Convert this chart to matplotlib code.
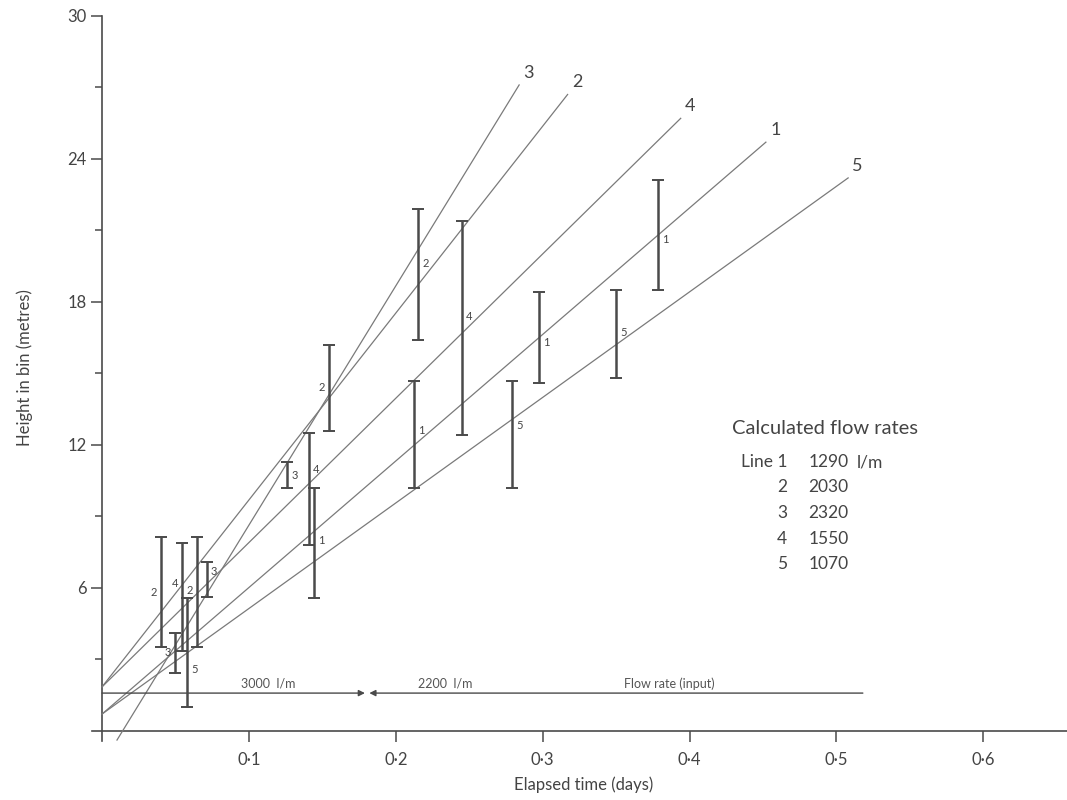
import numpy as np
import matplotlib
matplotlib.use("Agg")
import matplotlib.pyplot as plt

plt.rcParams['font.family'] = ['Lato', 'DejaVu Sans']

# fitted lines: start and end points
line_ids = ["1", "2", "3", "4", "5"]
line_x0 = [0.0, 0.0, 0.0102, 0.0, 0.0]
line_y0 = [0.71, 1.85, -0.38, 1.85, 0.71]
line_x1 = [0.452, 0.317, 0.284, 0.394, 0.508]
line_y1 = [24.7, 26.7, 27.1, 25.7, 23.2]

# measured ranges (error bars)
bar_x = [0.040, 0.0545, 0.050, 0.058, 0.065, 0.0713, 0.126, 0.141, 0.1444,
         0.1546, 0.2125, 0.2153, 0.245, 0.279, 0.2977, 0.350, 0.3787]
bar_lo = [3.52, 3.36, 2.43, 1.0, 3.52, 5.62, 10.2, 7.8, 5.58,
          12.6, 10.2, 16.4, 12.4, 10.2, 14.6, 14.8, 18.5]
bar_hi = [8.14, 7.89, 4.1, 5.58, 8.14, 7.09, 11.3, 12.5, 10.2,
          16.2, 14.7, 21.9, 21.4, 14.7, 18.4, 18.5, 23.1]
bar_line = ["2", "4", "3", "5", "2", "3", "3", "4", "1",
            "2", "1", "2", "4", "5", "1", "5", "1"]
bar_label_y = [5.8, 6.2, 3.3, 2.6, 5.9, 6.7, 10.7, 10.95, 8.0,
               14.4, 12.6, 19.6, 17.4, 12.8, 16.3, 16.7, 20.6]
bar_side = ["l", "l", "l", "r", "l", "r", "r", "r", "r",
            "l", "r", "r", "r", "r", "r", "r", "r"]

# calculated flow rates table
rate_lines = ["1", "2", "3", "4", "5"]
rate_values = ["1290", "2030", "2320", "1550", "1070"]

# input flow rate
flow_change_x = 0.18
flow_end_x = 0.518
flow_y = 1.59

ink = "#4a4a4a"
thin = "#7a7a7a"
txt = "#444444"

fig = plt.figure(figsize=(10.67, 8), dpi=100)
ax = fig.add_axes([0.0956, 0.08625, 1 - 0.0956, 0.894])
ax.set_xlim(0, 0.657)
ax.set_ylim(0, 30)
for s in ax.spines.values():
    s.set_visible(False)

# axes lines drawn by hand so they can run past the origin
ax.plot([0, 0], [-0.4, 30], color=ink, lw=1.2, clip_on=False)
ax.plot([-0.007, 0.657], [0, 0], color=ink, lw=1.2, clip_on=False)

ax.set_yticks([6, 12, 18, 24, 30])
ax.set_yticks([3, 9, 15, 21, 27], minor=True)
ax.set_xticks([0.1, 0.2, 0.3, 0.4, 0.5, 0.6])
ax.set_xticklabels(["0·1", "0·2", "0·3", "0·4", "0·5", "0·6"])
ax.tick_params(axis="y", which="major", direction="out", length=8, width=1.1,
               color=ink, labelsize=12, labelcolor=txt, pad=3)
ax.tick_params(axis="y", which="minor", direction="out", length=5, width=1.1, color=ink)
ax.tick_params(axis="x", direction="out", length=8, width=1.1, color=ink,
               labelsize=12, labelcolor=txt, pad=7)

fig.text(584 / 1067, 1 - 785 / 800, "Elapsed time (days)", fontsize=12,
         color=txt, ha="center", va="center")
fig.text(25 / 1067, 1 - 368 / 800, "Height in bin (metres)", fontsize=12,
         color=txt, ha="center", va="center", rotation=90)

# fitted lines with end labels
for lid, x0, y0, x1, y1 in zip(line_ids, line_x0, line_y0, line_x1, line_y1):
    ax.plot([x0, x1], [y0, y1], color=thin, lw=0.9, clip_on=False)
    ax.annotate(lid, (x1, y1), xytext=(3, 3), textcoords="offset points",
                fontsize=13, color=txt, ha="left", va="bottom")

# error bars
ax.errorbar(bar_x, [(a + b) / 2 for a, b in zip(bar_lo, bar_hi)],
            yerr=[[(b - a) / 2 for a, b in zip(bar_lo, bar_hi)]] * 2,
            fmt="none", ecolor=ink, elinewidth=1.8, capsize=4, capthick=1.4)
for x, ly, lab, side in zip(bar_x, bar_label_y, bar_line, bar_side):
    dx = -3 if side == "l" else 3
    ax.annotate(lab, (x, ly), xytext=(dx, 0), textcoords="offset points",
                fontsize=8, color=txt, va="center",
                ha="right" if side == "l" else "left")

# input flow rate arrows
ax.annotate("", xy=(flow_change_x - 0.001, flow_y), xytext=(0, flow_y),
            arrowprops=dict(arrowstyle="-|>", color=ink, lw=1.0,
                            mutation_scale=9, shrinkA=0, shrinkB=0))
ax.annotate("", xy=(flow_change_x + 0.002, flow_y), xytext=(flow_end_x, flow_y),
            arrowprops=dict(arrowstyle="-|>", color=ink, lw=1.0,
                            mutation_scale=9, shrinkA=0, shrinkB=0))
ax.text(0.113, 2.0, "3000  l/m", fontsize=9, color="#555555", ha="center", va="center")
ax.text(0.234, 2.0, "2200  l/m", fontsize=9, color="#555555", ha="center", va="center")
ax.text(0.386, 2.0, "Flow rate (input)", fontsize=9, color="#555555", ha="center", va="center")

# calculated flow rates table
ax.text(0.492, 12.7, "Calculated flow rates", fontsize=14.5, color=txt,
        ha="center", va="center")
row_y = [11.28, 10.24, 9.15, 8.06, 7.01]
for i, (lid, val, y) in enumerate(zip(rate_lines, rate_values, row_y)):
    lead = "Line " + lid if i == 0 else lid
    ax.text(0.4666, y, lead, fontsize=12.5, color=txt, ha="right", va="center")
    ax.text(0.481, y, val, fontsize=12.5, color=txt, ha="left", va="center")
ax.text(0.514, row_y[0], "l/m", fontsize=12.5, color=txt, ha="left", va="center")

fig.savefig("out.png", dpi=100)
